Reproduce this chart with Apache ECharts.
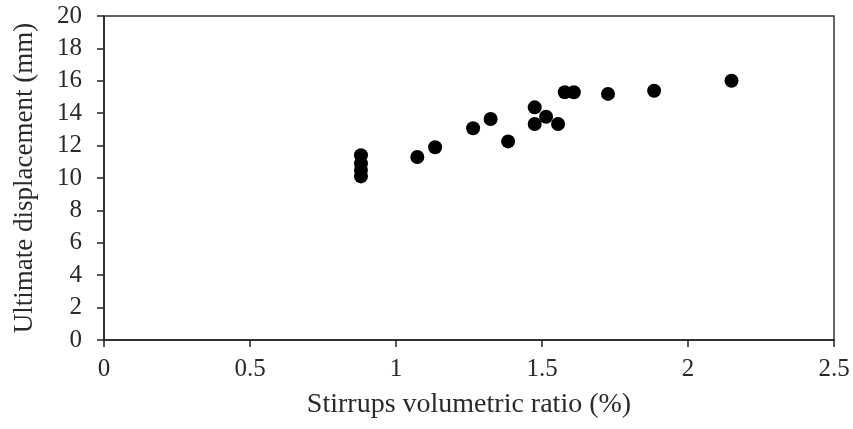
<!DOCTYPE html>
<html>
<head>
<meta charset="utf-8">
<script src="https://cdn.jsdelivr.net/npm/echarts@6/dist/echarts.min.js"></script>
<style>html,body{margin:0;padding:0;background:#fff}#c{width:853px;height:429px}</style>
</head>
<body>
<div id="c"></div>
<script>
const stirrupRatio = [0.88, 0.88, 0.88, 0.88, 1.073, 1.134, 1.264, 1.324, 1.384, 1.475, 1.475, 1.514, 1.555, 1.578, 1.609, 1.726, 1.884, 2.149];
const ultimateDisp = [10.1, 10.5, 10.9, 11.4, 11.3, 11.9, 13.07, 13.64, 12.26, 14.36, 13.33, 13.78, 13.33, 15.29, 15.29, 15.19, 15.39, 16.0];
const xTitle = 'Stirrups volumetric ratio (%)';
const yTitle = 'Ultimate displacement (mm)';

const points = stirrupRatio.map((x, i) => [x, ultimateDisp[i]]);
const font = 'Liberation Serif';
const chart = echarts.init(document.getElementById('c'));
chart.setOption({
  animation: false,
  grid: {left: 104, right: 19, top: 16, bottom: 89, show: true, borderColor: '#333', borderWidth: 1.5, backgroundColor: 'transparent'},
  xAxis: {
    type: 'value', min: 0, max: 2.5, interval: 0.5,
    name: xTitle, nameLocation: 'middle', nameGap: 51,
    nameTextStyle: {fontFamily: font, fontSize: 28, color: '#2a2a2a'},
    axisLine: {show: true, onZero: false, lineStyle: {color: '#222', width: 1.5}},
    axisTick: {show: true, inside: false, length: 7, lineStyle: {color: '#222', width: 1.5}},
    axisLabel: {fontFamily: font, fontSize: 25, color: '#2a2a2a', margin: 17},
    splitLine: {show: false}
  },
  yAxis: {
    type: 'value', min: 0, max: 20, interval: 2,
    name: yTitle, nameLocation: 'middle', nameGap: 66,
    nameTextStyle: {fontFamily: font, fontSize: 27, color: '#2a2a2a'},
    axisLine: {show: true, onZero: false, lineStyle: {color: '#222', width: 1.5}},
    axisTick: {show: true, inside: false, length: 7, lineStyle: {color: '#222', width: 1.5}},
    axisLabel: {fontFamily: font, fontSize: 25, color: '#2a2a2a', margin: 22},
    splitLine: {show: false}
  },
  series: [{
    type: 'scatter',
    data: points,
    symbol: 'circle',
    symbolSize: 14,
    itemStyle: {color: '#000', opacity: 1}
  }]
});
</script>
</body>
</html>
